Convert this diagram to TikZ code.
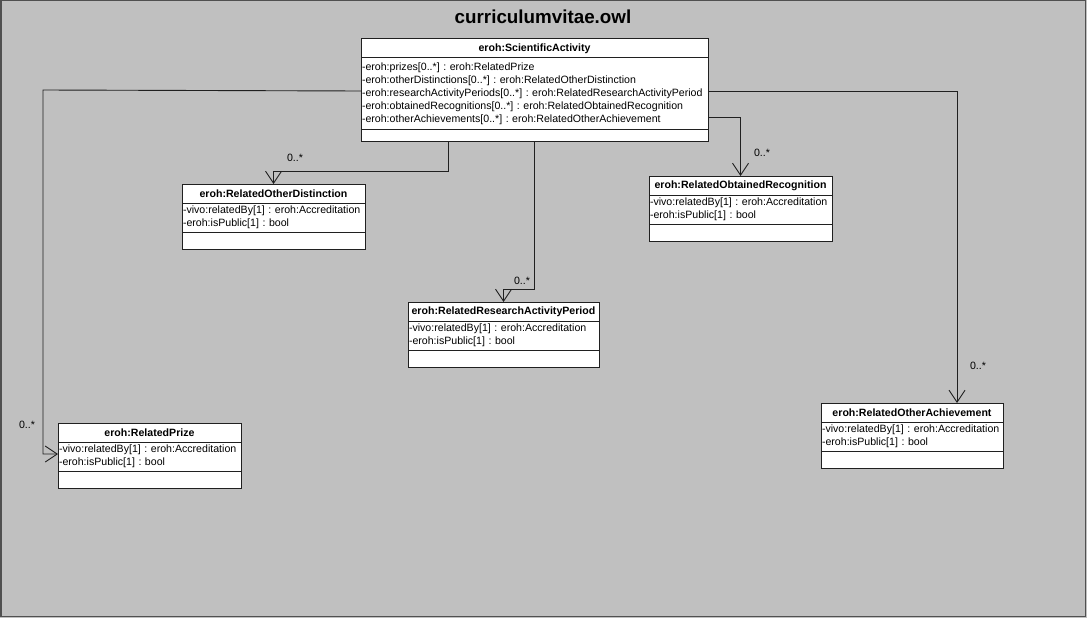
\documentclass[tikz,border=0pt]{standalone}
\usepackage{fontspec}
\setmainfont{Liberation Sans}
\usetikzlibrary{arrows.meta,positioning}
\definecolor{bgGray}{HTML}{C0C0C0}
\definecolor{frameGray}{HTML}{505050}
\definecolor{lineGray}{HTML}{202020}
\frenchspacing

\begin{document}
\begin{tikzpicture}[x=1pt,y=-1pt,
	cls_head/.style={rectangle,draw=lineGray,fill=white,line width=1pt,outer sep=0pt,inner sep=0pt,minimum height=19pt,font=\fontsize{10.6}{13.3}\selectfont\bfseries},
	cls_attr/.style={rectangle,draw=lineGray,fill=white,line width=1pt,outer sep=0pt,inner xsep=1pt,inner ysep=0pt,minimum height=29pt,align=left,font=\fontsize{10.6}{13.3}\selectfont},
	cls_empty/.style={rectangle,draw=lineGray,fill=white,line width=1pt,outer sep=0pt,inner sep=0pt,minimum height=17pt},
	assoc/.style={-{Straight Barb[length=12pt,width=16pt]},draw=lineGray,line width=0.9pt},
	mult/.style={font=\fontsize{10.6}{12}\selectfont}]

		\useasboundingbox (0,0) rectangle (1087,618);
		\fill[bgGray] (0,0) rectangle (1087,618);
		\draw[frameGray,line width=1.5pt] (0.75,0.75) rectangle (1085.5,616.25);

		\node[font=\fontsize{18.8}{20}\selectfont\bfseries] (title) at (543,17) {curriculumvitae.owl};

		% main class
		\node[cls_head,anchor=north west,minimum width=347pt] (sciH) at (361,39) {eroh:ScientificActivity};
		\node[cls_attr,text width=345pt,minimum height=71pt,font=\fontsize{10.6}{12.9}\selectfont,below=0pt of sciH] (sciA) {-eroh:prizes[0..*] : eroh:RelatedPrize\\-eroh:otherDistinctions[0..*] : eroh:RelatedOtherDistinction\\-eroh:researchActivityPeriods[0..*] : eroh:RelatedResearchActivityPeriod\\-eroh:obtainedRecognitions[0..*] : eroh:RelatedObtainedRecognition\\-eroh:otherAchievements[0..*] : eroh:RelatedOtherAchievement};
		\node[cls_empty,minimum width=347pt,minimum height=12pt,below=0pt of sciA] (sciE) {};

		% related classes
		\node[cls_head,anchor=north west,minimum width=183pt] (distH) at (182,184) {eroh:RelatedOtherDistinction};
		\node[cls_attr,text width=181pt,below=0pt of distH] (distA) {-vivo:relatedBy[1] : eroh:Accreditation\\-eroh:isPublic[1] : bool};
		\node[cls_empty,minimum width=183pt,below=0pt of distA] (distE) {};

		\node[cls_head,anchor=north west,minimum width=183pt] (recogH) at (649,176) {eroh:RelatedObtainedRecognition};
		\node[cls_attr,text width=181pt,below=0pt of recogH] (recogA) {-vivo:relatedBy[1] : eroh:Accreditation\\-eroh:isPublic[1] : bool};
		\node[cls_empty,minimum width=183pt,below=0pt of recogA] (recogE) {};

		\node[cls_head,anchor=north west,minimum width=191pt] (periodH) at (408,302) {eroh:RelatedResearchActivityPeriod};
		\node[cls_attr,text width=189pt,below=0pt of periodH] (periodA) {-vivo:relatedBy[1] : eroh:Accreditation\\-eroh:isPublic[1] : bool};
		\node[cls_empty,minimum width=191pt,below=0pt of periodA] (periodE) {};

		\node[cls_head,anchor=north west,minimum width=183pt] (prizeH) at (58,423) {eroh:RelatedPrize};
		\node[cls_attr,text width=181pt,below=0pt of prizeH] (prizeA) {-vivo:relatedBy[1] : eroh:Accreditation\\-eroh:isPublic[1] : bool};
		\node[cls_empty,minimum width=183pt,below=0pt of prizeA] (prizeE) {};

		\node[cls_head,anchor=north west,minimum width=182pt] (achH) at (821,403) {eroh:RelatedOtherAchievement};
		\node[cls_attr,text width=180pt,below=0pt of achH] (achA) {-vivo:relatedBy[1] : eroh:Accreditation\\-eroh:isPublic[1] : bool};
		\node[cls_empty,minimum width=182pt,below=0pt of achA] (achE) {};

		% associations
		\coordinate (prizeBend) at (43,90);
		\draw[assoc] ([yshift=2.5pt]sciA.west) -- (prizeBend) |- ([yshift=2.5pt]prizeA.west);
		\draw[assoc] ([xshift=-86.5pt]sciE.south) -- ++(0,30) -| (distH.north);
		\draw[assoc] (sciE.south) -- ++(0,148) -| (periodH.north);
		\draw[assoc] ([yshift=-23.5pt]sciA.east) -| (recogH.north);
		\draw[assoc] ([yshift=2.5pt]sciA.east) -| ([xshift=45pt]achH.north);

		\node[mult] (m_prize) at (27,425) {0..*};
		\node[mult] (m_dist) at (295,158) {0..*};
		\node[mult] (m_period) at (522,281) {0..*};
		\node[mult] (m_recog) at (762,153) {0..*};
		\node[mult] (m_ach) at (978,366) {0..*};
		\end{tikzpicture}
\end{document}
